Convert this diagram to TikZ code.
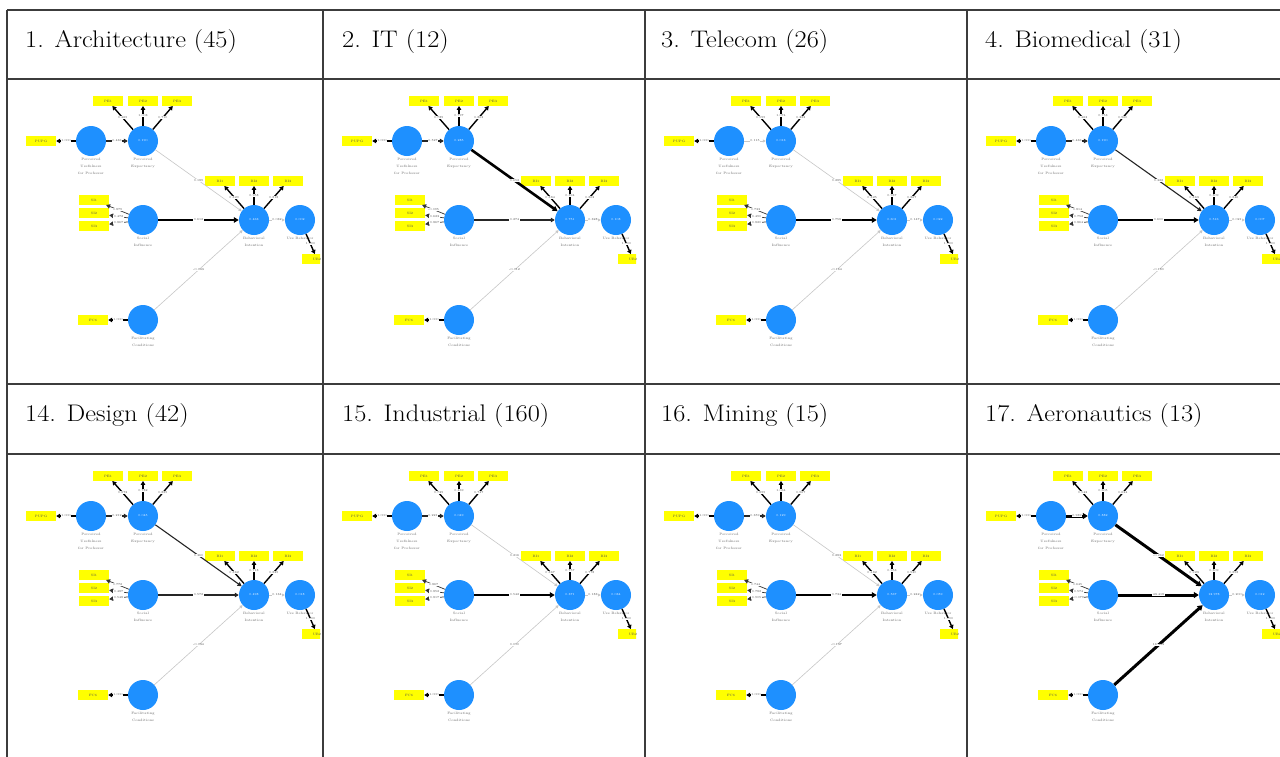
\documentclass[tikz,border=0pt]{standalone}
\usetikzlibrary{arrows.meta}

\definecolor{semblue}{RGB}{30,144,255}
\definecolor{semyellow}{RGB}{255,255,0}
\definecolor{gridgray}{RGB}{60,60,60}

% per-model values
\pgfkeys{/sem/.is family, /sem,
  rpe/.store in=\sRPE, rbi/.store in=\sRBI, rub/.store in=\sRUB,
  pupg/.store in=\sPUPG, pupe/.store in=\sPUPE,
  pea/.store in=\sPEa, peb/.store in=\sPEb, pec/.store in=\sPEc,
  sia/.store in=\sSIa, sib/.store in=\sSIb, sic/.store in=\sSIc,
  bia/.store in=\sBIa, bib/.store in=\sBIb, bic/.store in=\sBIc,
  fcl/.store in=\sFCL, ubl/.store in=\sUBL,
  pebi/.store in=\sPEBI, sibi/.store in=\sSIBI, fcbi/.store in=\sFCBI, biub/.store in=\sBIUB,
  wpupe/.code={\tikzset{pupepath/.style={#1}}},
  wpebi/.code={\tikzset{pebipath/.style={#1}}},
  wsibi/.code={\tikzset{sibipath/.style={#1}}},
  wfcbi/.code={\tikzset{fcbipath/.style={#1}}},
  wbiub/.code={\tikzset{biubpath/.style={#1}}},
}
\newcommand\semset[1]{\pgfkeys{/sem/.cd,#1}}
\newcommand\headtext[1]{\scalebox{1.1}[1]{#1}}

\tikzset{
  lv/.style={circle, fill=semblue, minimum size=30pt, inner sep=0pt,
    font=\fontsize{3}{3}\selectfont, text=white},
  ind/.style={rectangle, fill=semyellow, minimum width=30pt, minimum height=9.5pt,
    inner sep=0pt, font=\fontsize{3.2}{3.2}\selectfont, text=black!70},
  lvcap/.style={anchor=north, align=center, inner sep=0pt,
    font=\fontsize{3.4}{6.8}\selectfont, text=black!60},
  elab/.style={fill=white, inner sep=0.4pt, font=\fontsize{3}{3}\selectfont, text=black!70},
  semtip/.style={-{Triangle[length=4pt,width=4.5pt]}},
  indarrow/.style={semtip, draw=black, line width=1.4pt},
  siarrow/.style={semtip, draw=black!80, line width=0.7pt},
  weakpath/.style={-{Triangle[length=3pt,width=3pt]}, draw=black!22, line width=0.6pt},
  midpath/.style={semtip, draw=black!85, line width=1.1pt},
  strongpath/.style={-{Triangle[length=5pt,width=5.5pt]}, draw=black, line width=2.6pt},
  heavypath/.style={-{Triangle[length=5pt,width=6pt]}, draw=black, line width=3pt},
  gridline/.style={draw=gridgray, line width=1.5pt},
  colhead/.style={anchor=base west, inner sep=0pt, font=\fontsize{24}{24}\selectfont, text=black},
}

% one path model, drawn in the cell whose top left corner is (#2,#3)
\newcommand\semcell[3]{%
\begin{scope}[shift={(#2,-#3)}]
\begin{scope}
\clip (2,-2) rectangle (313,-304);
% latent variables
\node[lv] (#1pu) at (84,-62) {};
\node[lv] (#1pe) at (136,-62) {\sRPE};
\node[lv] (#1si) at (136,-141) {};
\node[lv] (#1fc) at (136,-241) {};
\node[lv] (#1bi) at (247,-141) {\sRBI};
\node[lv] (#1ub) at (293,-141) {\sRUB};
% captions
\node[lvcap] (#1pucap) at (84,-79) {Perceived\\Usefulness\\for Professor};
\node[lvcap] (#1pecap) at (136,-79) {Perceived\\Expectancy};
\node[lvcap] (#1sicap) at (136,-158) {Social\\Influence};
\node[lvcap] (#1fccap) at (136,-258) {Facilitating\\Conditions};
\node[lvcap] (#1bicap) at (247,-158) {Behavioral\\Intention};
\node[lvcap] (#1ubcap) at (293,-158) {Use Behavior};
% indicators
\node[ind] (#1pupg) at (34,-62) {PUPG};
\node[ind] (#1peA) at (101,-22) {PE1};
\node[ind] (#1peB) at (136,-22) {PE2};
\node[ind] (#1peC) at (170,-22) {PE3};
\node[ind] (#1siA) at (87,-121) {SI1};
\node[ind] (#1siB) at (87,-134) {SI2};
\node[ind] (#1siC) at (87,-147) {SI3};
\node[ind] (#1biA) at (213,-102) {BI1};
\node[ind] (#1biB) at (247,-102) {BI2};
\node[ind] (#1biC) at (281,-102) {BI3};
\node[ind] (#1fcx) at (86,-241) {FC6};
\node[ind] (#1ubx) at (310,-180) {UB2};
% structural paths
\draw[pupepath] (#1pu) -- node[elab]{\sPUPE} (#1pe);
\draw[pebipath] (#1pe) -- node[elab]{\sPEBI} (#1bi);
\draw[sibipath] (#1si) -- node[elab]{\sSIBI} (#1bi);
\draw[fcbipath] (#1fc) -- node[elab]{\sFCBI} (#1bi);
\draw[biubpath] (#1bi) -- node[elab]{\sBIUB} (#1ub);
% loadings
\draw[indarrow] (#1pu) -- node[elab]{\sPUPG} (#1pupg);
\draw[indarrow] (#1pe) -- node[elab]{\sPEa} (#1peA);
\draw[indarrow] (#1pe) -- node[elab]{\sPEb} (#1peB);
\draw[indarrow] (#1pe) -- node[elab]{\sPEc} (#1peC);
\draw[siarrow] (#1si) -- node[elab]{\sSIa} (#1siA);
\draw[siarrow] (#1si) -- node[elab]{\sSIb} (#1siB);
\draw[siarrow] (#1si) -- node[elab]{\sSIc} (#1siC);
\draw[indarrow] (#1bi) -- node[elab]{\sBIa} (#1biA);
\draw[indarrow] (#1bi) -- node[elab]{\sBIb} (#1biB);
\draw[indarrow] (#1bi) -- node[elab]{\sBIc} (#1biC);
\draw[indarrow] (#1fc) -- node[elab]{\sFCL} (#1fcx);
\draw[indarrow] (#1ub) -- node[elab]{\sUBL} (#1ubx);
\end{scope}
\end{scope}}

\begin{document}
\begin{tikzpicture}[x=1pt, y=1pt]
\useasboundingbox (0,0) rectangle (1280,-756);
\fill[white] (0,0) rectangle (1280,-756);

% table rules
\draw[gridline] (7,-10) -- (1290,-10);
\draw[gridline] (7,-79) -- (1290,-79);
\draw[gridline] (7,-384) -- (1290,-384);
\draw[gridline] (7,-454) -- (1290,-454);
\draw[gridline] (7,-10) -- (7,-760);
\draw[gridline] (323,-10) -- (323,-760);
\draw[gridline] (645,-10) -- (645,-760);
\draw[gridline] (967,-10) -- (967,-760);

% column headings
\node[colhead] (h1) at (25,-47) {\headtext{1. Architecture (45)}};
\node[colhead] (h2) at (342,-47) {\headtext{2. IT (12)}};
\node[colhead] (h3) at (661,-47) {\headtext{3. Telecom (26)}};
\node[colhead] (h4) at (985,-47) {\headtext{4. Biomedical (31)}};
\node[colhead] (h14) at (25,-421) {\headtext{14. Design (42)}};
\node[colhead] (h15) at (342,-421) {\headtext{15. Industrial (160)}};
\node[colhead] (h16) at (661,-421) {\headtext{16. Mining (15)}};
\node[colhead] (h17) at (985,-421) {\headtext{17. Aeronautics (13)}};

\semset{rpe=0.190, rbi=0.463, rub=0.002, pupg=1.000, pupe=0.436,
  pea=0.465, peb=1.003, pec=0.710, sia=0.879, sib=0.472, sic=0.867,
  bia=0.820, bib=0.958, bic=0.818, fcl=1.000, ubl=1.000,
  pebi=0.189, sibi=0.612, fcbi=-0.043, biub=0.032,
  wpupe=midpath, wpebi=weakpath, wsibi=strongpath, wfcbi=weakpath, wbiub=weakpath}
\semcell{a}{7}{79}

\semset{rpe=0.285, rbi=0.751, rub=0.108, pupg=1.000, pupe=0.527,
  pea=0.789, peb=0.797, pec=0.863, sia=-0.095, sib=0.623, sic=0.867,
  bia=0.884, bib=0.894, bic=0.862, fcl=1.000, ubl=1.000,
  pebi=0.652, sibi=0.274, fcbi=-0.012, biub=0.328,
  wpupe=midpath, wpebi=strongpath, wsibi=midpath, wfcbi=weakpath, wbiub=weakpath}
\semcell{b}{323}{79}

\semset{rpe=0.013, rbi=0.601, rub=0.022, pupg=1.000, pupe=0.115,
  pea=0.595, peb=1.074, pec=0.283, sia=0.733, sib=0.490, sic=0.820,
  bia=0.825, bib=0.937, bic=0.867, fcl=1.000, ubl=1.000,
  pebi=0.285, sibi=0.758, fcbi=-0.164, biub=0.147,
  wpupe=weakpath, wpebi=weakpath, wsibi=strongpath, wfcbi=weakpath, wbiub=weakpath}
\semcell{c}{645}{79}

\semset{rpe=0.190, rbi=0.516, rub=0.007, pupg=1.000, pupe=0.436,
  pea=0.463, peb=0.753, pec=0.560, sia=0.814, sib=0.752, sic=0.864,
  bia=0.863, bib=0.809, bic=0.846, fcl=1.000, ubl=1.000,
  pebi=0.322, sibi=0.600, fcbi=-0.180, biub=0.021,
  wpupe=midpath, wpebi=midpath, wsibi=strongpath, wfcbi=weakpath, wbiub=weakpath}
\semcell{d}{967}{79}

\semset{rpe=0.045, rbi=0.498, rub=0.018, pupg=1.000, pupe=0.212,
  pea=0.872, peb=0.782, pec=0.885, sia=0.772, sib=0.487, sic=0.548,
  bia=0.862, bib=0.718, bic=0.825, fcl=1.000, ubl=1.000,
  pebi=0.360, sibi=0.572, fcbi=-0.034, biub=0.134,
  wpupe=midpath, wpebi=midpath, wsibi=midpath, wfcbi=weakpath, wbiub=weakpath}
\semcell{e}{7}{454}

\semset{rpe=0.049, rbi=0.371, rub=0.034, pupg=1.000, pupe=0.221,
  pea=0.729, peb=0.469, pec=0.747, sia=0.867, sib=0.852, sic=0.817,
  bia=0.867, bib=0.757, bic=0.778, fcl=1.000, ubl=1.000,
  pebi=0.216, sibi=0.542, fcbi=0.010, biub=0.183,
  wpupe=midpath, wpebi=weakpath, wsibi=strongpath, wfcbi=weakpath, wbiub=weakpath}
\semcell{f}{323}{454}

\semset{rpe=0.129, rbi=0.567, rub=0.059, pupg=1.000, pupe=0.359,
  pea=0.855, peb=1.064, pec=0.567, sia=0.744, sib=0.782, sic=0.905,
  bia=0.482, bib=0.953, bic=0.930, fcl=1.000, ubl=1.000,
  pebi=0.283, sibi=0.734, fcbi=-0.137, biub=0.242,
  wpupe=midpath, wpebi=weakpath, wsibi=strongpath, wfcbi=weakpath, wbiub=weakpath}
\semcell{g}{645}{454}

\semset{rpe=0.882, rbi=12.978, rub=0.012, pupg=1.000, pupe=0.939,
  pea=0.542, peb=0.605, pec=0.624, sia=0.645, sib=0.574, sic=-0.079,
  bia=0.923, bib=0.809, bic=0.898, fcl=1.000, ubl=1.000,
  pebi=-0.262, sibi=43.418, fcbi=16.424, biub=0.200,
  wpupe=heavypath, wpebi=heavypath, wsibi=heavypath, wfcbi=heavypath, wbiub=weakpath}
\semcell{h}{967}{454}
\end{tikzpicture}
\end{document}
